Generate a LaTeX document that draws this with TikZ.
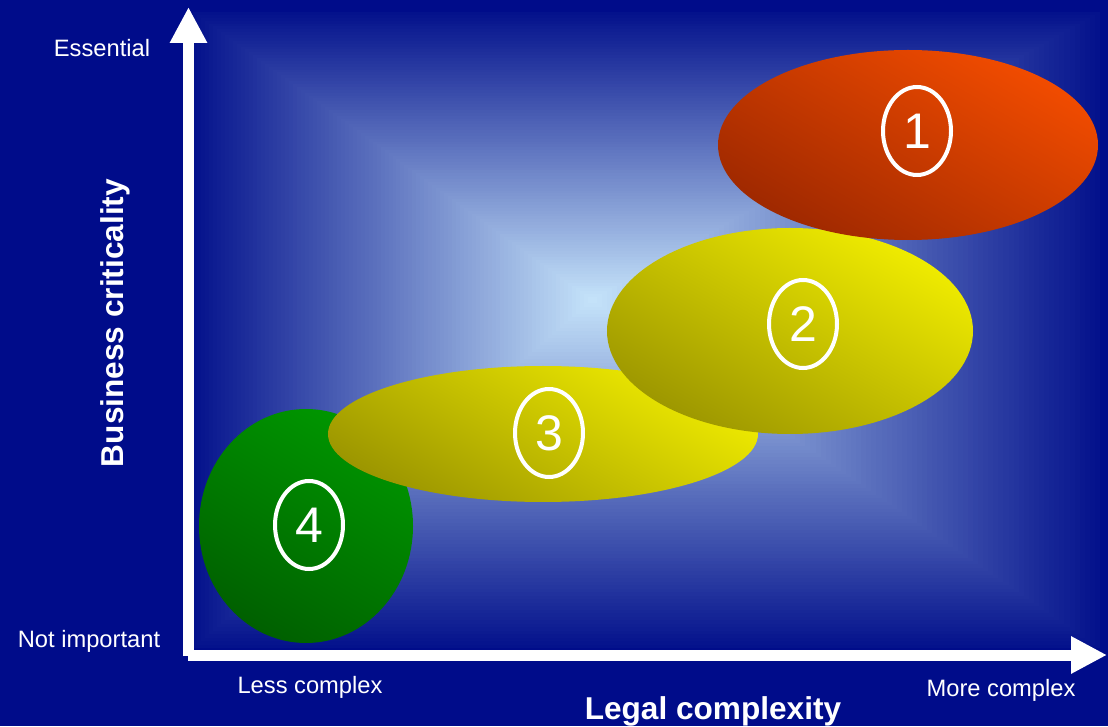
\documentclass[tikz,border=0pt]{standalone}
\usepackage{fontspec}
\setmainfont{Liberation Sans}
\usetikzlibrary{arrows.meta,shapes.geometric}

\definecolor{navy}{RGB}{0,12,138}
\definecolor{paneldark}{RGB}{4,18,140}
\definecolor{panellight}{RGB}{198,228,250}
\definecolor{redhi}{RGB}{242,76,0}
\definecolor{redlo}{RGB}{158,40,0}
\definecolor{yelhi}{RGB}{240,236,0}
\definecolor{yello}{RGB}{156,150,0}
\definecolor{grnhi}{RGB}{0,150,0}
\definecolor{grnlo}{RGB}{0,96,0}

\begin{document}
\begin{tikzpicture}[x=1pt,y=1pt,
  axisline/.style={white,line width=11pt,line cap=butt,
    -{Triangle[length=36pt,width=35pt]}},
  blob/.style n args={4}{ellipse,inner sep=0pt,outer sep=0pt,
    minimum width=#1pt,minimum height=#2pt,
    top color=#3,bottom color=#4,shading angle=-30},
  numoval/.style={ellipse,draw=white,line width=4pt,inner sep=0pt,
    minimum width=68pt,minimum height=88pt,text=white,
    font=\fontsize{50}{50}\selectfont},
  lbl/.style={text=white,inner sep=0pt,anchor=base,
    font=\fontsize{23.7}{28}\selectfont},
  title/.style={text=white,inner sep=0pt,anchor=base,
    font=\fontsize{31.6}{36}\selectfont\bfseries}]

% page and dark background
\useasboundingbox (0,0) rectangle (1108,726);
\fill[navy] (0,0) rectangle (1108,726);

% rectangular gradient panel, light towards the focus point
\foreach \i in {0,...,99}{
  \pgfmathsetmacro\s{1-\i/100}
  \fill[panellight!\i!paneldark]
    ({592+(193-592)*\s},{426+(78-426)*\s}) rectangle
    ({592+(1100-592)*\s},{426+(714-426)*\s});
}

% regions
\node[blob={214}{234}{grnhi}{grnlo}] (r4) at (306,200) {};
\node[blob={430}{136}{yelhi}{yello}] (r3) at (543,292) {};
\node[blob={366}{206}{yelhi}{yello}] (r2) at (790,395) {};
\node[blob={380}{190}{redhi}{redlo}] (r1) at (908,581) {};

% numbered markers
\node[numoval] (n1) at (917,595) {1};
\node[numoval] (n2) at (803,402) {2};
\node[numoval] (n3) at (549,293) {3};
\node[numoval] (n4) at (309,201) {4};

% axes
\coordinate (yfoot) at (188.5,70);
\coordinate (ytip) at (188.5,719);
\coordinate (xfoot) at (188,71);
\coordinate (xtip) at (1107,71);
\draw[axisline] (yfoot) -- (ytip);
\draw[axisline] (xfoot) -- (xtip);

% axis labels
\node[lbl] (essential) at (102,669) {Essential};
\node[lbl] (notimportant) at (89,79) {Not important};
\node[lbl] (lesscomplex) at (310,33) {Less complex};
\node[lbl] (morecomplex) at (1001,30) {More complex};
\node[title] (xlabel) at (713,7) {Legal complexity};
\node[title,rotate=90] (ylabel) at (123,403) {Business criticality};
\end{tikzpicture}
\end{document}
